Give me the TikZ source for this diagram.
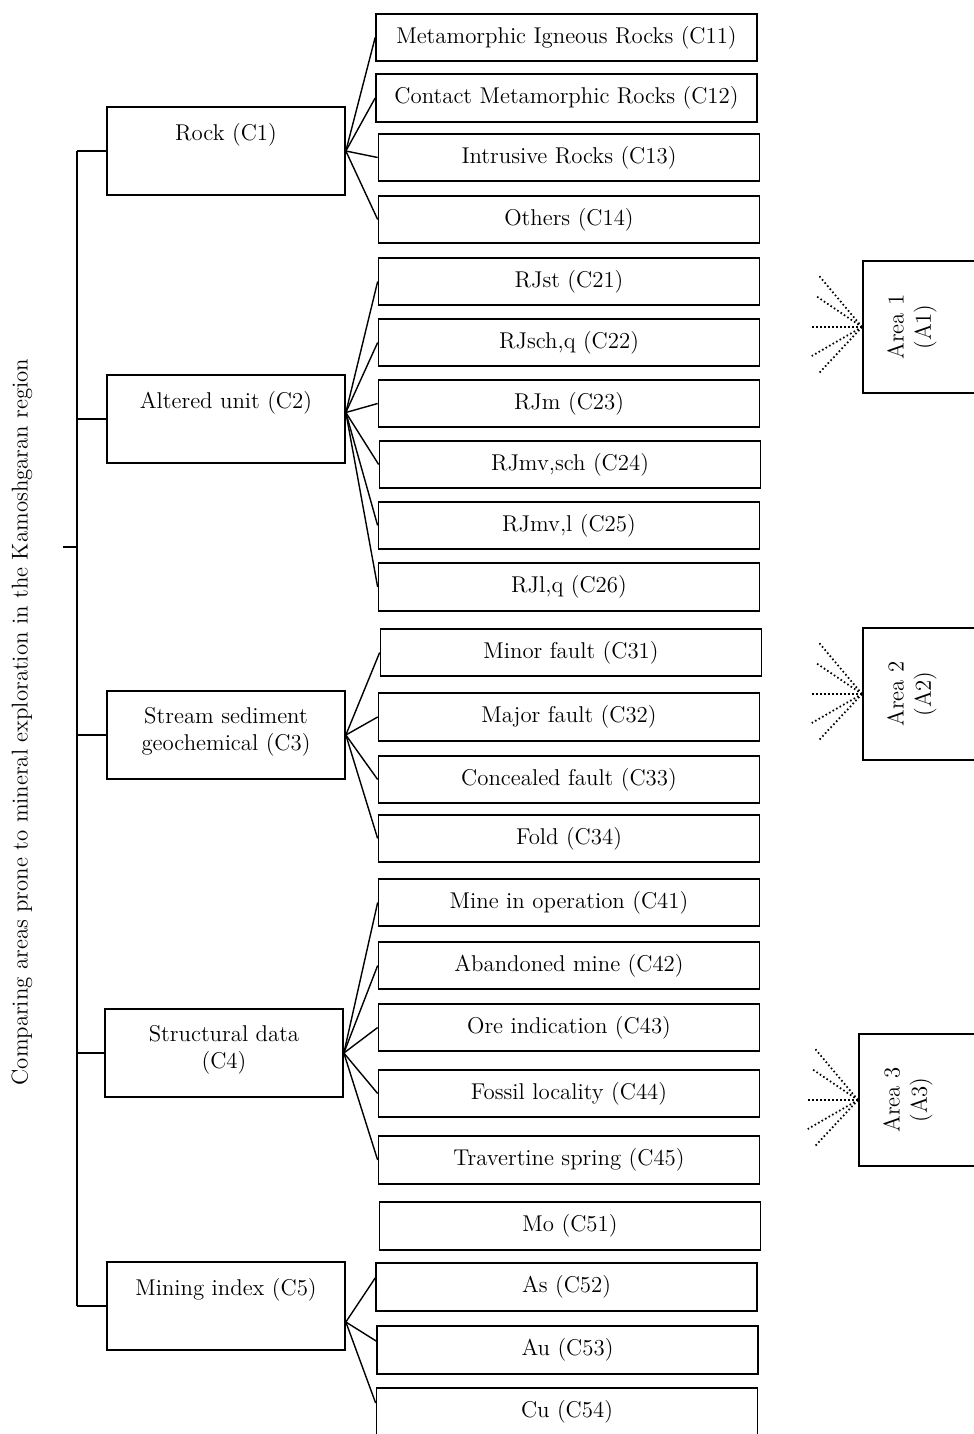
\documentclass[tikz,border=0pt]{standalone}
\usetikzlibrary{positioning}
\begin{document}
\begin{tikzpicture}[x=0.02cm,y=-0.02cm,
        every node/.style={font=\fontsize{13}{15.5}\selectfont},
        crit/.style={draw,line width=1pt,minimum width=4.76cm,minimum height=1.76cm,inner sep=0pt},
        crittext/.style={align=center,inner sep=0pt},
        sub/.style={draw,line width=1pt,minimum width=7.62cm,minimum height=0.95cm,inner sep=0pt},
        area/.style={draw,line width=1pt,minimum width=2.64cm,minimum height=2.64cm,anchor=west},
        link/.style={line width=0.8pt},
        ray/.style={line width=1pt,dash pattern=on 0.9pt off 1.4pt}]
    \useasboundingbox (0,0) rectangle (974,1434);
    \clip (0,0) rectangle (974,1434);
    % goal
    \node[rotate=90] (goal) at (22,722) {Comparing areas prone to mineral exploration in the Kamoshgaran region};
    % criteria
    \node[crit] (c1) at (226,151) {};
    \node[crit] (c2) at (226,419) {};
    \node[crit] (c3) at (226,735) {};
    \node[crit] (c4) at (224,1053) {};
    \node[crit] (c5) at (226,1306) {};
    \node[crittext,below=0.33cm of c1.north] (t1) {Rock (C1)};
    \node[crittext,below=0.33cm of c2.north] (t2) {Altered unit (C2)};
    \node[crittext,below=0.33cm of c3.north] (t3) {Stream sediment\\geochemical (C3)};
    \node[crittext,below=0.33cm of c4.north] (t4) {Structural data\\(C4)};
    \node[crittext,below=0.33cm of c5.north] (t5) {Mining index (C5)};
    % sub-criteria
    \foreach \n/\x/\y/\t in {
            c11/566.5/37.5/{Metamorphic Igneous Rocks (C11)},
            c12/566.5/98/{Contact Metamorphic Rocks (C12)},
            c13/569/157.5/{Intrusive Rocks (C13)},
            c14/569/219.5/{Others (C14)},
            c21/569/281.5/{RJst (C21)},
            c22/569/342.5/{RJsch,q (C22)},
            c23/569/403.5/{RJm (C23)},
            c24/570/464.5/{RJmv,sch (C24)},
            c25/569/525.5/{RJmv,l (C25)},
            c26/569/587/{RJl,q (C26)},
            c31/571/652.5/{Minor fault (C31)},
            c32/569/717/{Major fault (C32)},
            c33/569/779.5/{Concealed fault (C33)},
            c34/569/838.5/{Fold (C34)},
            c41/569/902.5/{Mine in operation (C41)},
            c42/569/965.5/{Abandoned mine (C42)},
            c43/569/1027.5/{Ore indication (C43)},
            c44/569/1093.5/{Fossil locality (C44)},
            c45/569/1160/{Travertine spring (C45)},
            c51/570/1226/{Mo (C51)},
            c52/566.5/1287/{As (C52)},
            c53/567.5/1350/{Au (C53)},
            c54/567/1412/{Cu (C54)}}
        \node[sub] (\n) at (\x,\y) {\t};
    % alternatives
    \node[area] (a1) at (862,327) {};
    \node[area] (a2) at (862,694) {};
    \node[area] (a3) at (858,1100) {};
    \foreach \i in {1,2,3}
        \node[rotate=90,align=center,inner sep=0pt] (ta\i) at ([xshift=1cm]a\i.west) {Area \i\\(A\i)};
    % tree
    \coordinate (spine) at (77,0);
    \coordinate (tick) at (63,547);
    \draw[link] (c1.west -| spine) -- (c5.west -| spine);
    \draw[link] (tick) -- (tick -| spine);
    \foreach \i in {1,...,5}
        \draw[link] (c\i.west) -- (c\i.west -| spine);
    \coordinate (f1) at (c1.east);
    \coordinate (f2) at ([yshift=0.13cm]c2.east);
    \coordinate (f3) at (c3.east);
    \coordinate (f4) at (c4.east);
    \coordinate (f5) at ([yshift=-0.32cm]c5.east);
    \foreach \c in {11,12,13,14}
        \draw[link] (f1) -- (c\c.west);
    \foreach \c in {21,...,26}
        \draw[link] (f2) -- (c\c.west);
    \foreach \c in {31,...,34}
        \draw[link] (f3) -- (c\c.west);
    \foreach \c in {41,...,45}
        \draw[link] (f4) -- (c\c.west);
    \foreach \c in {52,53,54}
        \draw[link] (f5) -- ([yshift=0.18cm]c\c.west);
    % dotted rays
    \foreach \i in {1,2,3}
        \foreach \a/\r in {130/1.33,146/1.1,180/1.02,210/1.16,227/1.26}
            \draw[ray] (a\i.west) -- ++(\a:\r cm);
\end{tikzpicture}
\end{document}
